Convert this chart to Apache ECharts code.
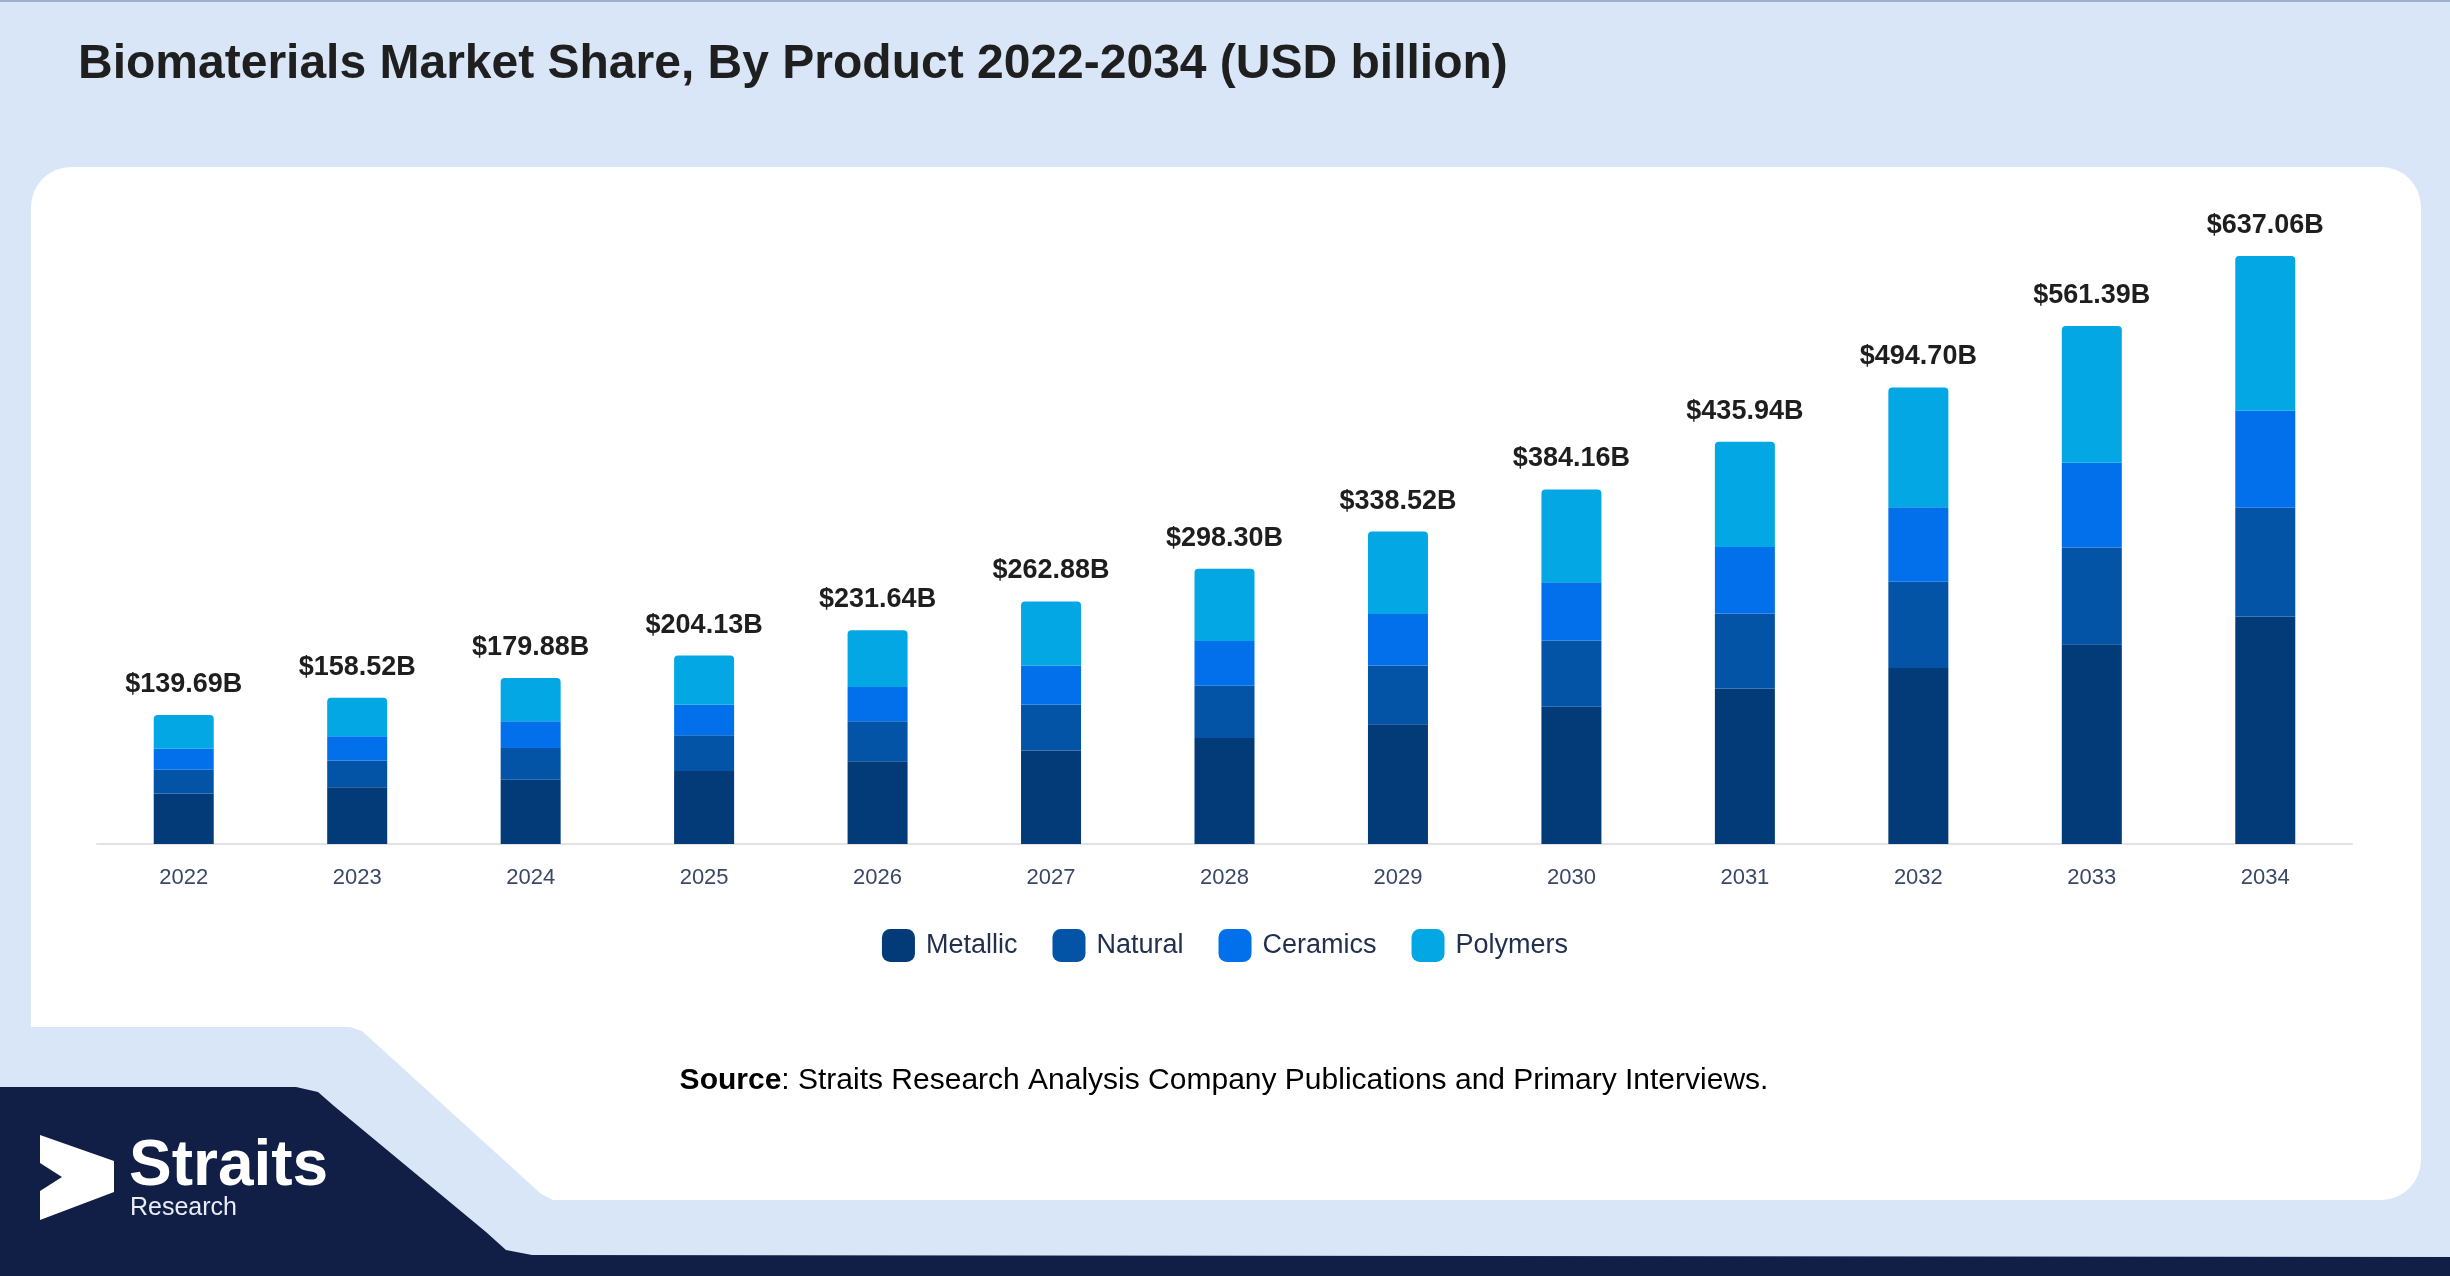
<!DOCTYPE html>
<html>
<head>
<meta charset="utf-8">
<script src="https://cdn.jsdelivr.net/npm/echarts@6/dist/echarts.min.js"></script>
<style>
html,body{margin:0;padding:0;background:#D9E6F8;}
#chart{width:2450px;height:1276px;}
</style>
</head>
<body>
<div id="chart"></div>
<script>
var years = ['2022','2023','2024','2025','2026','2027','2028','2029','2030','2031','2032','2033','2034'];
var metallic = [54.6, 61.4, 69.6, 79.2, 89.8, 101.4, 114.8, 129.7, 148.8, 168.6, 190.8, 216.5, 246.4];
var natural  = [25.9, 29.1, 34.4, 38.6, 43.1, 49.7, 56.6, 63.6, 71.7, 81.2, 93.4, 104.9, 118.0];
var ceramics = [22.6, 26.2, 29.0, 33.0, 37.3, 42.4, 48.6, 56.0, 63.2, 72.1, 80.7, 91.8, 105.0];
var polymers = [36.59, 41.82, 46.88, 53.33, 61.44, 69.38, 78.30, 89.22, 100.46, 114.04, 129.80, 148.19, 167.66];
var totals   = [139.69, 158.52, 179.88, 204.13, 231.64, 262.88, 298.30, 338.52, 384.16, 435.94, 494.70, 561.39, 637.06];
var seriesNames = ['Metallic','Natural','Ceramics','Polymers'];
var colors = ['#033B79','#0353A6','#0370EB','#03A7E3'];

var FONT = "'Liberation Sans', Arial, sans-serif";
var BG = '#D9E6F8';
var chart = echarts.init(document.getElementById('chart'), null, {renderer:'canvas'});

var seriesData = [metallic, natural, ceramics, polymers];
var series = seriesNames.map(function(name, i){
  var s = {
    name: name,
    type: 'bar',
    stack: 'total',
    barWidth: 60,
    data: seriesData[i],
    itemStyle: {color: colors[i], borderRadius: i === 3 ? [4,4,0,0] : 0},
    emphasis: {disabled: true}
  };
  if (i === 3) {
    s.label = {
      show: true,
      position: 'top',
      distance: 17,
      fontFamily: FONT,
      fontSize: 27,
      fontWeight: 'bold',
      color: '#1e1e1e',
      formatter: function(p){ return '$' + totals[p.dataIndex].toFixed(2) + 'B'; }
    };
  }
  return s;
});

var option = {
  backgroundColor: BG,
  animation: false,
  title: {
    text: 'Biomaterials Market Share, By Product 2022-2034 (USD billion)',
    left: 73,
    top: 36,
    textStyle: {fontFamily: FONT, fontSize: 48, fontWeight: 'bold', color: '#1f1f1f'}
  },
  grid: {left: 97, right: 98, top: 198, bottom: 432, containLabel: false},
  legend: {
    data: seriesNames,
    left: 'center',
    top: 924,
    icon: 'roundRect',
    itemWidth: 33,
    itemHeight: 33,
    itemGap: 35,
    textStyle: {fontFamily: FONT, fontSize: 27, color: '#22304f', padding: [0,0,0,6]}
  },
  xAxis: {
    type: 'category',
    data: years,
    axisTick: {show: false},
    axisLine: {lineStyle: {color: '#e2e2e2', width: 2}},
    axisLabel: {fontFamily: FONT, fontSize: 22, color: '#3a4766', margin: 23}
  },
  yAxis: {
    type: 'value',
    min: 0,
    max: 700,
    show: false,
    splitLine: {show: false}
  },
  graphic: [
    {
      type: 'rect', z: -10, silent: true,
      shape: {x: 31, y: 167, width: 2390, height: 1033, r: 40},
      style: {fill: '#ffffff'}
    },
    {
      type: 'polygon', z: -9, silent: true,
      shape: {points: [[0,1027],[350,1027],[362,1031],[540,1193],[556,1202],[0,1202]]},
      style: {fill: BG}
    },
    {
      type: 'rect', z: -8, silent: true,
      shape: {x: 31, y: 940, width: 320, height: 87, r: [0,0,0,40]},
      style: {fill: '#ffffff'}
    },
    {
      type: 'polygon', z: -7, silent: true,
      shape: {points: [[0,1087],[296,1087],[318,1092],[334,1106],[486,1232],[506,1250],[532,1255],[2450,1257],[2450,1276],[0,1276]]},
      style: {fill: '#111F47'}
    },
    {
      type: 'rect', z: -7, silent: true,
      shape: {x: 0, y: 0, width: 2450, height: 2},
      style: {fill: '#9fb0cf'}
    },
    {
      type: 'polygon', z: 10, silent: true,
      shape: {points: [[40,1135],[114,1161],[114,1192],[40,1220],[40,1191],[62,1177],[40,1163]]},
      style: {fill: '#ffffff'}
    },
    {
      type: 'text', z: 10, silent: true,
      x: 129, y: 1199,
      style: {text: 'Straits', fill: '#ffffff', font: 'bold 64px ' + FONT, textAlign: 'left', textVerticalAlign: 'bottom'}
    },
    {
      type: 'text', z: 10, silent: true,
      x: 130, y: 1208,
      style: {text: 'Research', fill: '#e8ecf5', font: '25px ' + FONT, textAlign: 'left', textVerticalAlign: 'middle'}
    },
    {
      type: 'text', z: 10, silent: true,
      x: 1224, y: 1081,
      style: {
        text: '{b|Source}{n|: Straits Research Analysis Company Publications and Primary Interviews.}',
        textAlign: 'center', textVerticalAlign: 'middle',
        rich: {
          b: {fontFamily: FONT, fontSize: 30, fontWeight: 'bold', color: '#1e1e1e'},
          n: {fontFamily: FONT, fontSize: 30, color: '#1e1e1e'}
        }
      }
    }
  ],
  series: series
};
chart.setOption(option);
</script>
</body>
</html>
